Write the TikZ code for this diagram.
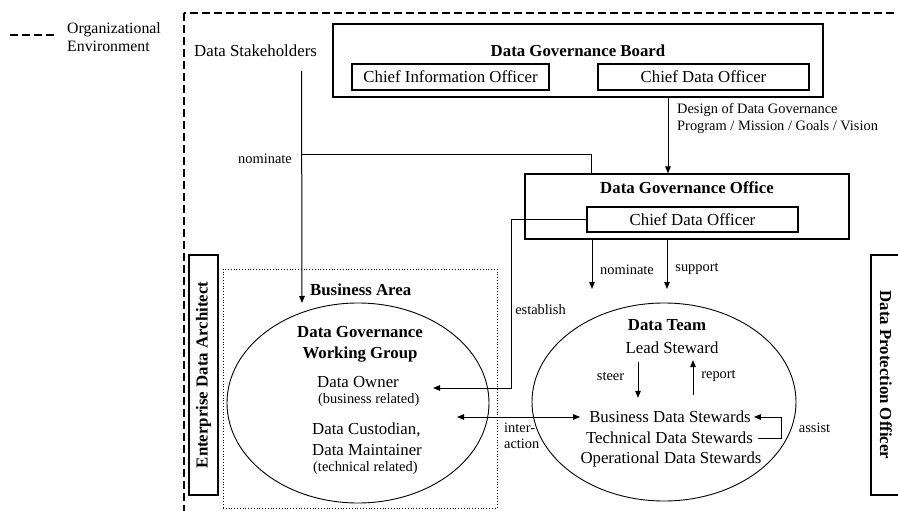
\documentclass[tikz,border=0pt]{standalone}
\usepackage{fontspec}
\setmainfont{Liberation Serif}
\usetikzlibrary{arrows.meta,shapes.geometric}

\newcommand{\normsz}{\fontsize{16.8}{20}\selectfont}
\newcommand{\smallsz}{\fontsize{14.4}{17}\selectfont}
\newcommand{\legsz}{\fontsize{15.8}{18}\selectfont}

\tikzset{
  box/.style={draw, line width=1.2pt, inner sep=0pt},
  txt/.style={inner sep=0pt, font=\normsz},
  lbl/.style={inner sep=0pt, font=\smallsz},
  head/.style={inner sep=0pt, font=\normsz\bfseries},
  arr/.style={line width=1pt, -{Triangle[length=7pt,width=5.5pt]}},
  dblarr/.style={line width=1pt, {Triangle[length=7pt,width=5.5pt]}-{Triangle[length=7pt,width=5.5pt]}},
  orgline/.style={line width=2.2pt, dash pattern=on 8pt off 4pt},
}

\begin{document}
\begin{tikzpicture}[x=1pt,y=1pt,yscale=-1]
\useasboundingbox (0,0) rectangle (898,511);

%Organizational environment (dashed frame + legend)
\draw[orgline] (184,13) rectangle (940,560);
\coordinate (legl) at (10,35);
\coordinate (legr) at (55,35);
\draw[orgline] (legl) -- (legr);
% Text Node
\node[txt, font=\legsz, anchor=west, align=left] (orgenv) at (67,37) {Organizational\\Environment};

% Text Node
\node[txt, anchor=west] (stake) at (194,51) {Data Stakeholders};

%Data Governance Board
\node[box, minimum width=490pt, minimum height=73pt] (board) at (578,60.5) {};
\node[head] (boardttl) at (578,51) {Data Governance Board};
\node[box, txt, minimum width=197pt, minimum height=26pt] (cio) at (450.5,77) {Chief Information Officer};
\node[box, txt, minimum width=211pt, minimum height=26pt] (bcdo) at (703.5,77) {Chief Data Officer};

%Data Governance Office
\node[box, minimum width=324pt, minimum height=65pt] (dgo) at (687,206.5) {};
\node[head] (dgottl) at (687,188) {Data Governance Office};
\node[box, txt, minimum width=211pt, minimum height=25pt] (ocdo) at (692.5,219.5) {Chief Data Officer};

%Side roles
\node[box, head, rotate=90, minimum width=240pt, minimum height=29pt] (eda) at (203.5,375) {Enterprise Data Architect};
\node[box, head, rotate=-90, minimum width=240pt, minimum height=30pt] (dpo) at (886,375) {Data Protection Officer};

%Business area + working group
\node[draw, dotted, line width=0.8pt, minimum width=274pt, minimum height=239pt, inner sep=0pt] (barea) at (360,388.5) {};
\node[head, anchor=west] (bareattl) at (310,290) {Business Area};
\node[draw, ellipse, line width=0.9pt, minimum width=262pt, minimum height=200pt, inner sep=0pt] (wg) at (358,403) {};
\node[head, align=center, font=\fontsize{16.8}{21}\selectfont\bfseries] (wgttl) at (360,344) {Data Governance\\Working Group};
\node[txt, anchor=west] (owner) at (317,382) {Data Owner};
\node[lbl, anchor=west] (ownernote) at (318,400) {(business related)};
\node[txt, anchor=west] (cust) at (312,430) {Data Custodian,};
\node[txt, anchor=west] (maint) at (312,450) {Data Maintainer};
\node[lbl, anchor=west] (technote) at (313,468) {(technical related)};

%Data team
\node[draw, ellipse, line width=0.9pt, minimum width=264pt, minimum height=198pt, inner sep=0pt] (team) at (664,402) {};
\node[head] (teamttl) at (667,325) {Data Team};
\node[txt] (lead) at (672,348) {Lead Steward};
\node[txt] (bds) at (670,417) {Business Data Stewards};
\node[txt] (tds) at (669.5,438) {Technical Data Stewards};
\node[txt] (ods) at (671,459) {Operational Data Stewards};

%free ends
\coordinate (nomjoin) at (302,154);
\coordinate (wgin) at (302,303);
\coordinate (estab) at (511,388);
\coordinate (wgown) at (433,388);
\coordinate (intl) at (457,417);
\coordinate (teamnom) at (592,289);
\coordinate (teamsup) at (667,289);

%Connectors
\draw[arr] ([xshift=90pt]board.south) -- ([xshift=-19pt]dgo.north);
\draw[arr] ([xshift=46pt,yshift=14pt]stake.south) -- (wgin);
\draw[line width=1pt] ([xshift=-96pt]dgo.north) |- (nomjoin);
\draw[arr] (ocdo.west) -| (estab) -- (wgown);
\draw[arr] ([xshift=-95pt]dgo.south) -- (teamnom);
\draw[arr] ([xshift=-20pt]dgo.south) -- (teamsup);
\draw[dblarr] (intl) -- ([xshift=-9pt]bds.west);
\draw[arr] ([xshift=-34pt,yshift=8pt]lead.south) -- ([xshift=-32pt,yshift=-13pt]bds.north);
\draw[arr] ([xshift=23pt,yshift=-16pt]bds.north) -- ([xshift=21pt,yshift=6pt]lead.south);
\draw[arr] ([xshift=5pt]tds.east) -- ++(23,0) |- ([xshift=3pt]bds.east);

% Text Node
\node[lbl, anchor=west, align=left] (design) at (677,118.5) {Design of Data Governance\\Program / Mission / Goals / Vision};
% Text Node
\node[lbl] (nom1) at (265,159) {nominate};
% Text Node
\node[lbl] (nom2) at (627,270) {nominate};
% Text Node
\node[lbl] (sup) at (697,269) {support};
% Text Node
\node[lbl] (est) at (540.5,310) {establish};
% Text Node
\node[lbl, anchor=west, align=left, font=\fontsize{14.4}{16}\selectfont] (inter) at (504,436) {inter-\\action};
% Text Node
\node[lbl] (steer) at (610.5,377) {steer};
% Text Node
\node[lbl] (rep) at (718.5,376) {report};
% Text Node
\node[lbl] (assist) at (814.5,428) {assist};

\end{tikzpicture}
\end{document}
